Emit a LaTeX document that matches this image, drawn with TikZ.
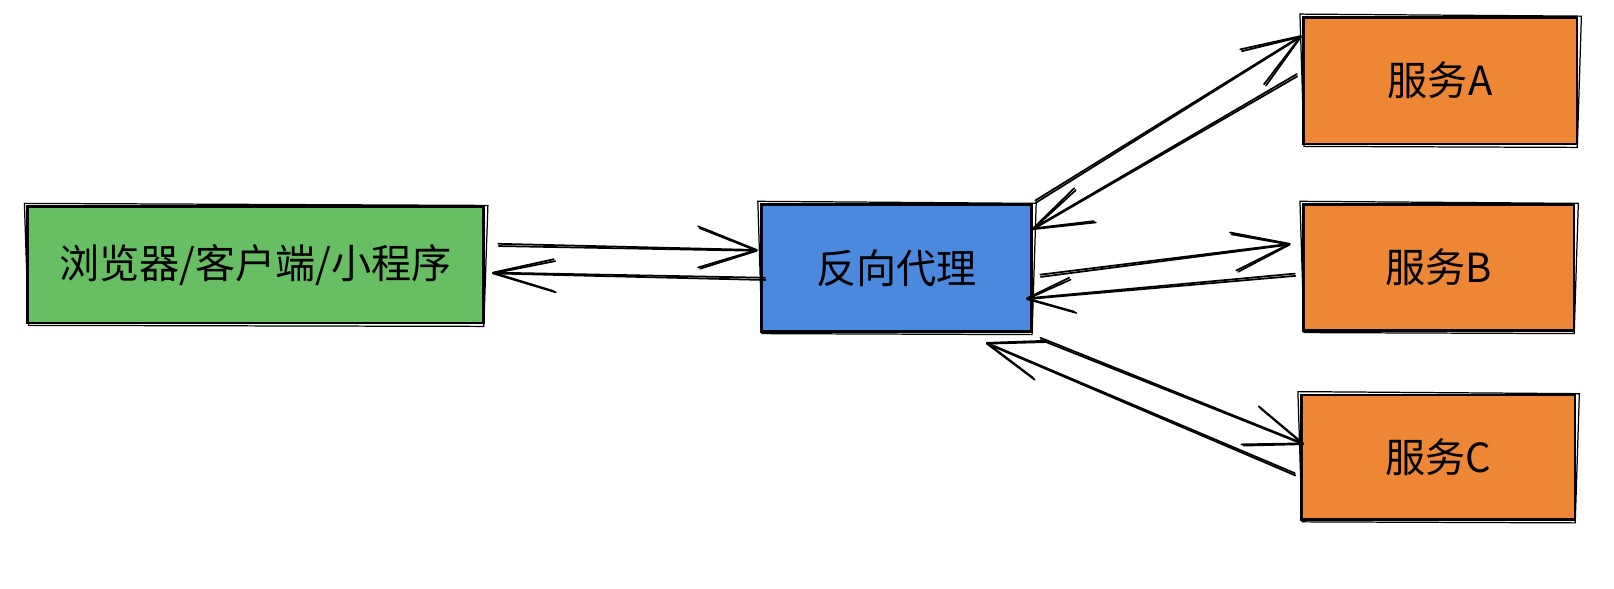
\documentclass[tikz,border=0pt]{standalone}
\usepackage{fontspec}
\setmainfont{Noto Sans CJK SC}
\usetikzlibrary{calc}
\definecolor{gr}{RGB}{104,190,99}
\definecolor{bl}{RGB}{74,137,221}
\definecolor{og}{RGB}{237,135,54}
\newcommand\skarr[4]{%
  \draw[skl] (#1) -- (#2) ($(#2)+(#3)$) -- (#2) -- ($(#2)+(#4)$);
  \draw[skl] ($(#1)+(0.5,2.2)$) -- ($(#2)+(0,0.8)$) ($(#2)+(#3)+(1.5,1.8)$) -- ($(#2)+(0,0.8)$) -- ($(#2)+(#4)+(2,1.2)$);
}
\newcommand\skbox[1]{%
  \draw[skb] ($(#1.north west)+(-2,-2)$) -- ($(#1.north east)+(3,0)$) -- ($(#1.south east)+(-1,2)$) -- ($(#1.south west)+(2,1)$) -- cycle;
}
\begin{document}
\begin{tikzpicture}[x=0.5pt,y=-0.5pt,
  box/.style={draw=black, line width=1.3pt, inner sep=0pt, font=\fontsize{19.5}{23}\selectfont},
  skl/.style={line width=0.85pt, line cap=round, line join=round},
  skb/.style={line width=0.6pt, line cap=round}]
\useasboundingbox (0,0) rectangle (1569,572);
\node[box, fill=gr, minimum width=221.5pt, minimum height=56.5pt] (g) at (248.5,257.5) {浏览器/客户端/小程序};
\node[box, fill=bl, minimum width=131.5pt, minimum height=61.5pt] (p) at (871.5,260.5) {反向代理};
\node[box, fill=og, minimum width=133pt, minimum height=61.5pt] (a) at (1400,78.5) {服务A};
\node[box, fill=og, minimum width=131.5pt, minimum height=61pt] (b) at (1398.5,260) {服务B};
\node[box, fill=og, minimum width=133pt, minimum height=60.5pt] (c) at (1398,444.5) {服务C};
\skbox{g}\skbox{p}\skbox{a}\skbox{b}\skbox{c}
% endpoints derived from the nodes
\coordinate (s1) at ($(g.east)+(13,-20.5)$);
\coordinate (t1) at ($(p.west)+(-3,-17.5)$);
\coordinate (s2) at ($(p.west)+(5,9.5)$);
\coordinate (t2) at ($(g.east)+(8,7.5)$);
\coordinate (s3) at ($(p.east)+(2,-65.5)$);
\coordinate (t3) at ($(a.west)+(-1,-43.5)$);
\coordinate (s4) at ($(a.west)+(-5,-6.5)$);
\coordinate (t4) at ($(p.east)+(0,-38.5)$);
\coordinate (s5) at ($(p.east)+(7,6.5)$);
\coordinate (t5) at ($(b.west)+(-12,-23)$);
\coordinate (s6) at ($(b.west)+(-7,6)$);
\coordinate (t6) at ($(p.east)+(-6,29.5)$);
\coordinate (s7) at ($(p.south east)+(7,5)$);
\coordinate (t7) at ($(c.west)+(3,-13.5)$);
\coordinate (s8) at ($(c.west)+(-5,15.5)$);
\coordinate (t8) at ($(p.south east)+(-45,10)$);
\skarr{s1}{t1}{-57,-23}{-57,17}
\skarr{s2}{t2}{59,-13}{59,18}
\skarr{s3}{t3}{-59,13}{-36,47}
\skarr{s4}{t4}{40,-39}{59,-7}
\skarr{s5}{t5}{-58,-11}{-52,26}
\skarr{s6}{t6}{41,-20}{46,13}
\skarr{s7}{t7}{-43,-36}{-60,1}
\skarr{s8}{t8}{45,34}{57,-2}
\end{tikzpicture}
\end{document}
